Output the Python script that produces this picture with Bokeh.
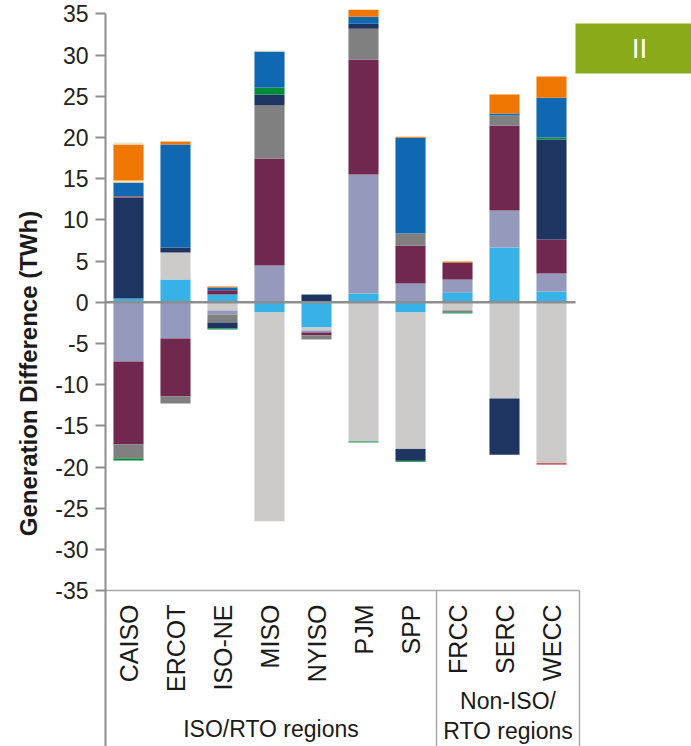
import math
from bokeh.plotting import figure
from bokeh.models import Range1d, FixedTicker, ColumnDataSource, Label
from bokeh.core.properties import value
from bokeh.embed import file_html
from bokeh.resources import INLINE

# ---------------- data (TWh) ----------------
regions = ["CAISO", "ERCOT", "ISO-NE", "MISO", "NYISO", "PJM", "SPP", "FRCC", "SERC", "WECC"]
group_iso_label = "ISO/RTO regions"
group_non_label = ["Non-ISO/", "RTO regions"]
badge_text = "II"
y_title = "Generation Difference (TWh)"
y_ticks = list(range(-35, 40, 5))

# series, listed in stacking order away from zero
s_light_blue = [0.45, 2.75, 0.93, -1.25, -3.07, 1.05, -1.25, 1.20, 6.64, 1.30]
s_light_grey = [0.00, 3.28, -1.00, -25.33, -0.36, -16.90, -16.55, -1.00, -11.70, -19.55]
s_lavender   = [-7.20, -4.42, -0.50, 4.45, -0.24, 14.45, 2.27, 1.55, 4.49, 2.18]
s_maroon     = [-10.07, -7.02, 0.53, 12.99, -0.36, 13.95, 4.60, 2.07, 10.31, 4.12]
s_grey       = [-1.70, -0.85, -0.96, 6.43, -0.49, 3.75, 1.46, -0.24, 1.21, 0.00]
s_navy       = [12.25, 0.61, -0.74, 1.33, 0.93, 0.60, -1.45, 0.00, -6.80, 12.14]
s_red        = [0.12, 0.00, 0.00, 0.00, 0.00, 0.00, 0.00, 0.00, 0.00, -0.15]
s_green      = [-0.24, 0.00, -0.12, 0.85, 0.00, -0.12, -0.12, -0.12, 0.00, 0.24]
s_blue       = [1.70, 12.50, 0.32, 4.37, 0.00, 0.85, 11.64, 0.00, 0.25, 4.82]
s_yellow     = [0.24, 0.00, 0.00, 0.00, 0.00, 0.00, 0.00, 0.00, 0.00, 0.00]
s_orange     = [4.37, 0.36, 0.12, 0.00, 0.00, 0.85, 0.12, 0.12, 2.30, 2.60]
s_pale       = [0.24, 0.00, 0.00, 0.12, 0.00, 0.00, 0.00, 0.00, 0.00, 0.00]

series_values = [s_light_blue, s_light_grey, s_lavender, s_maroon, s_grey, s_navy,
                 s_red, s_green, s_blue, s_yellow, s_orange, s_pale]
series_colors = ["#38B1E6", "#CDCACA", "#9599BC", "#70284F", "#808080", "#1E3461",
                 "#C0282D", "#008C3A", "#1068B2", "#FFE6A0", "#EF7600", "#E4EAC6"]

# ---------------- layout helpers (canvas pixel -> data) ----------------
W, H = 691, 746
X0, DX = 128.0, 47.0      # x of first category centre, px per category
Y0, DY = 301.7, 8.24      # y of zero, px per TWh

def px2x(px):
    return (px - X0) / DX

def py2y(py):
    return (Y0 - py) / DY

FONT = "Liberation Sans"
TXT = "#1A1A1A"
AX = "#8E8E8E"
SEP = "#A8A8A8"

p = figure(width=W, height=H, output_backend="svg", toolbar_location=None,
           x_range=Range1d(px2x(105), px2x(W)), y_range=Range1d(py2y(H), py2y(0)),
           x_axis_location=None,
           min_border_left=105, min_border_right=0, min_border_top=0, min_border_bottom=0)
p.xgrid.visible = False
p.ygrid.visible = False
p.outline_line_color = None
p.background_fill_color = "white"
p.border_fill_color = "white"

ax = p.yaxis[0]
ax.ticker = FixedTicker(ticks=y_ticks)
ax.bounds = (py2y(H), 35)
ax.major_label_overrides = {t: str(t) for t in y_ticks}
ax.axis_line_color = AX
ax.axis_line_width = 2
ax.major_tick_line_color = AX
ax.major_tick_line_width = 2
ax.major_tick_out = 10
ax.major_tick_in = 0
ax.minor_tick_line_color = None
ax.major_label_text_font = FONT
ax.major_label_text_font_size = "23px"
ax.major_label_text_color = "#222222"
ax.major_label_standoff = 7
ax.axis_label = y_title
ax.axis_label_text_font = FONT
ax.axis_label_text_font_style = "bold"
ax.axis_label_text_font_size = "24px"
ax.axis_label_text_color = TXT
ax.axis_label_standoff = 10

# ---------------- stacked bars ----------------
n = len(regions)
pos = [0.0] * n
neg = [0.0] * n
for vals, color in zip(series_values, series_colors):
    xs, bots, tops = [], [], []
    for i, v in enumerate(vals):
        if v == 0:
            continue
        if v > 0:
            b, t = pos[i], pos[i] + v
            pos[i] = t
        else:
            t, b = neg[i], neg[i] + v
            neg[i] = b
        xs.append(i)
        bots.append(b)
        tops.append(t)
    src = ColumnDataSource(dict(x=xs, bottom=bots, top=tops))
    p.vbar(x="x", bottom="bottom", top="top", width=0.64, source=src,
           fill_color=color, line_color=None)

# zero line
p.segment(x0=[px2x(105)], y0=[0], x1=[px2x(575)], y1=[0], line_color=AX, line_width=2.5)

# frame lines below the axis
p.segment(x0=[px2x(105)], y0=[-35], x1=[px2x(579)], y1=[-35], line_color=SEP, line_width=1.5)
p.segment(x0=[px2x(436), px2x(579)], y0=[-35, -35],
          x1=[px2x(436), px2x(579)], y1=[py2y(H), py2y(H)],
          line_color=SEP, line_width=1.5)

# category labels
p.text(x=list(range(n)), y=[py2y(604)] * n, text=regions, angle=math.pi / 2,
       text_align="right", text_baseline="middle", text_font=value(FONT),
       text_font_size="25px", text_color=TXT)

# group labels
p.text(x=[(px2x(105) + px2x(436)) / 2], y=[py2y(728)], text=[group_iso_label],
       text_align="center", text_baseline="middle", text_font=value(FONT),
       text_font_size="23px", text_color=TXT)
p.text(x=[(px2x(436) + px2x(579)) / 2] * 2, y=[py2y(700), py2y(730)], text=group_non_label,
       text_align="center", text_baseline="middle", text_font=value(FONT),
       text_font_size="23px", text_color=TXT)

# badge
p.quad(left=[px2x(575)], right=[px2x(W + 10)], top=[py2y(23)], bottom=[py2y(73)],
       fill_color="#8AAA1A", line_color=None)
p.add_layout(Label(x=px2x(639), y=py2y(48), text=badge_text, text_align="center",
                   text_baseline="middle", text_color="white", text_font=FONT,
                   text_font_size="28px"))

open("out.html", "w").write(file_html(p, INLINE))
